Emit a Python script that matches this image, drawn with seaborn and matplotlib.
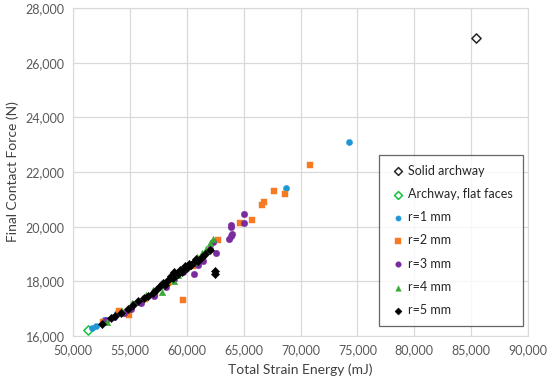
import matplotlib
matplotlib.use("Agg")
import matplotlib.pyplot as plt
import matplotlib.ticker as mticker
import pandas as pd
import seaborn as sns

# données (énergie en mJ, force en N)
solid_x = [85400]
solid_y = [26900]

flat_x = [51300]
flat_y = [16230]

r1_x = [51700, 52000, 52700, 53900, 68700, 74300]
r1_y = [16300, 16380, 16580, 16850, 21400, 23100]

r2_x = [52600, 54000, 54900, 56300, 57200, 58300, 59650, 60500, 61100, 62700,
        64700, 65700, 66600, 66800, 67700, 68600, 70800]
r2_y = [16520, 16900, 16760, 17350, 17550, 17950, 17330, 18550, 18800, 19520,
        20130, 20250, 20800, 20900, 21300, 21200, 22250]

r3_x = [52900, 53600, 54500, 55100, 56000, 57100, 58200, 58900, 59700, 60600,
        61000, 61400, 62000, 62300, 62600, 63700, 63900, 64000, 63900, 63900,
        65000, 65000]
r3_y = [16600, 16700, 16850, 17000, 17200, 17450, 17800, 18100, 18350, 18280,
        18600, 18750, 19200, 19450, 19030, 19540, 19650, 19750, 19980, 20050,
        20150, 20450]

r4_x = [53000, 54300, 55200, 56400, 57000, 57800, 58200, 58500, 58900, 59200,
        59700, 60100, 60500, 60900, 61300, 61700, 62000, 62300]
r4_y = [16520, 16900, 17200, 17500, 17700, 17600, 17950, 18100, 18000, 18250,
        18450, 18560, 18700, 18900, 19050, 19200, 19400, 19550]

r5_x = [52500, 53300, 53700, 54200, 54800, 55300, 55700, 56200, 56600, 57000,
        57300, 57600, 57900, 58100, 58300, 58600, 58800, 58900, 59200, 59400,
        59600, 59800, 60000, 60200, 60400, 60600, 60800, 61000, 61300, 61600,
        62000, 62500, 62500]
r5_y = [16450, 16650, 16730, 16840, 17000, 17130, 17280, 17380, 17480, 17560,
        17700, 17820, 17950, 17880, 18050, 18200, 18120, 18350, 18280, 18400,
        18330, 18550, 18480, 18650, 18600, 18720, 18800, 18760, 18900, 19000,
        19150, 18390, 18270]

series = [
    ("Solid archway", solid_x, solid_y, "D", "white", "#262626", 22),
    ("Archway, flat faces", flat_x, flat_y, "D", "white", "#11c43c", 22),
    ("r=1 mm", r1_x, r1_y, "o", "#1f97d4", "#1f97d4", 20),
    ("r=2 mm", r2_x, r2_y, "s", "#f57a22", "#f57a22", 20),
    ("r=3 mm", r3_x, r3_y, "o", "#7a2b9e", "#7a2b9e", 22),
    ("r=4 mm", r4_x, r4_y, "^", "#3aa935", "#3aa935", 22),
    ("r=5 mm", r5_x, r5_y, "D", "black", "black", 18),
]

sns.set_style("whitegrid", {"grid.color": "#d9d9d9", "axes.edgecolor": "#d9d9d9"})
plt.rcParams["font.family"] = ["Lato", "DejaVu Sans"]

fig = plt.figure(figsize=(5.5, 3.84), dpi=100)
ax = fig.add_axes([0.133, 0.125, 0.827, 0.854])

for label, xs, ys, marker, face, edge, size in series:
    df = pd.DataFrame({"energy": xs, "force": ys})
    sns.scatterplot(data=df, x="energy", y="force", ax=ax, marker=marker,
                    color=face, edgecolor=edge, linewidth=1.1 if face == "white" else 0.3,
                    s=size, label=label, zorder=3)

ax.set_xlim(50000, 90000)
ax.set_ylim(16000, 28000)
ax.xaxis.set_major_locator(mticker.MultipleLocator(5000))
ax.yaxis.set_major_locator(mticker.MultipleLocator(2000))
fmt = mticker.FuncFormatter(lambda v, p: f"{v:,.0f}")
ax.xaxis.set_major_formatter(fmt)
ax.yaxis.set_major_formatter(fmt)
ax.tick_params(labelsize=9, colors="#595959", length=0, pad=6)
ax.set_xlabel("Total Strain Energy (mJ)", fontsize=10, color="#404040", labelpad=5)
ax.set_ylabel("Final Contact Force (N)", fontsize=10, color="#404040", labelpad=5)
ax.grid(True, linewidth=0.9)

leg = ax.legend(loc="lower right", bbox_to_anchor=(0.989, 0.03), borderaxespad=0,
                fontsize=9, frameon=True, fancybox=False, labelspacing=0.9,
                handletextpad=0.1, handlelength=1.4, borderpad=0.8,
                markerscale=0.85)
leg.get_frame().set_edgecolor("#404040")
leg.get_frame().set_linewidth(0.9)
for t in leg.get_texts():
    t.set_color("#262626")

fig.savefig("out.png", dpi=100)
